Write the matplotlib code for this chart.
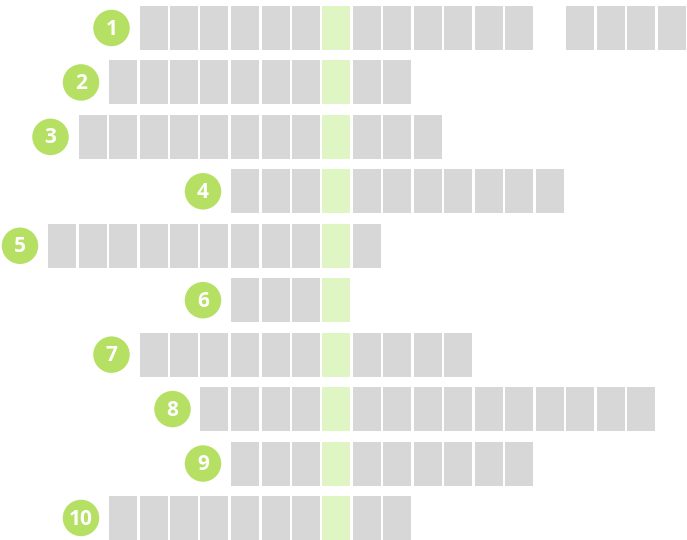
import matplotlib.pyplot as plt
from matplotlib.patches import Rectangle

# crossword rows: first column, last column (column 9 is the answer column)
numbers = ["1", "2", "3", "4", "5", "6", "7", "8", "9", "10"]
first_col = [3, 2, 1, 6, 0, 6, 3, 5, 6, 2]
last_col = [20, 11, 12, 16, 10, 9, 13, 19, 15, 11]
blank_cells = {0: [16]}  # row index -> columns left empty
answer_col = 9

gray = "#d6d7d6"
light_green = "#e0f5c4"
badge_green = "#b5e064"

# pixel geometry
col_pitch = 30.5
row_pitch = 54.44
cell_w = 28 / col_pitch
cell_h = 44 / row_pitch

fig = plt.figure(figsize=(6.87, 5.40), dpi=100)
ax = fig.add_axes([0, 0, 1, 1])
ax.set_xlim(-48 / col_pitch, (687 - 48) / col_pitch)
ax.set_ylim((540 - 6) / row_pitch, -6 / row_pitch)
ax.axis("off")

for r, num in enumerate(numbers):
    for c in range(first_col[r], last_col[r] + 1):
        if c in blank_cells.get(r, []):
            continue
        color = light_green if c == answer_col else gray
        ax.add_patch(Rectangle((c, r), cell_w, cell_h, facecolor=color, edgecolor="none"))
    cx = first_col[r] - 28 / col_pitch
    cy = r + cell_h / 2
    ax.scatter([cx], [cy], s=690, color=badge_green, edgecolors="none", zorder=3)
    ax.text(cx, cy + 0.02, num, ha="center", va="center", color="white", fontsize=15,
            fontweight="bold", family="Open Sans", zorder=4)

fig.savefig("out.png", dpi=100)
